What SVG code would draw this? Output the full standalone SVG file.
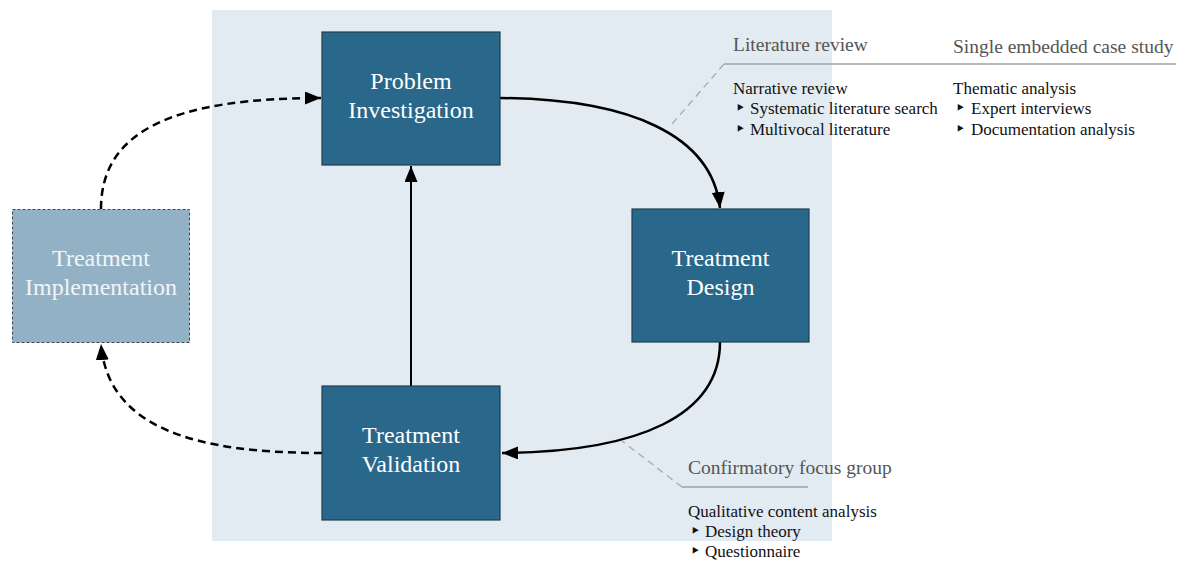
<svg xmlns="http://www.w3.org/2000/svg" width="1192" height="561" viewBox="0 0 1192 561">
  <style>
    .node { fill: #29688b; stroke: #1f3f52; stroke-width: 1.2; }
    .node-ghost { fill: #93b1c4; stroke: #3a4a55; stroke-width: 1; stroke-dasharray: 3 2; }
    .label { font-family: "Liberation Serif", serif; font-size: 24px; fill: #ffffff; text-anchor: middle; }
    .label-ghost { fill: #f1f5f8; }
    .flow { fill: none; stroke: #000; stroke-width: 2.5; }
    .flow-dash { fill: none; stroke: #000; stroke-width: 2.5; stroke-dasharray: 8 5; }
    .head { font-family: "Liberation Serif", serif; font-size: 19.5px; fill: #555; }
    .sub { font-family: "Liberation Serif", serif; font-size: 17px; fill: #111; }
    .bullet { font-family: "DejaVu Sans", sans-serif; font-size: 18px; fill: #111; }
    .rule { stroke: #a0a0a0; stroke-width: 1.5; fill: none; }
    .leader { stroke: #aaaaaa; stroke-width: 1.3; stroke-dasharray: 7 5; fill: none; }
  </style>
  <defs>
    <marker id="arrow" markerUnits="userSpaceOnUse" markerWidth="17" markerHeight="13" refX="16" refY="6.5" orient="auto">
      <path d="M0,0 L16,6.5 L0,13 z" fill="#000"/>
    </marker>
  </defs>

  <rect width="1192" height="561" fill="#ffffff"/>
  <!-- cycle area -->
  <rect x="212" y="10" width="620" height="531" fill="#e2ebf1"/>

  <!-- connectors -->
  <g id="connectors">
    <path class="flow" d="M500,98 C630,99 712,135 720,208" marker-end="url(#arrow)"/>
    <path class="flow" d="M720,342 C720,415 640,452 502,453" marker-end="url(#arrow)"/>
    <path class="flow" d="M411,386 L411,166" style="stroke-width:2" marker-end="url(#arrow)"/>
    <path class="flow-dash" d="M322,453 C200,453 108,430 101,344" marker-end="url(#arrow)"/>
    <path class="flow-dash" d="M101,209 C101,130 175,98 321,98" marker-end="url(#arrow)"/>
  </g>

  <!-- method annotations -->
  <g id="annotation-literature">
    <path class="leader" d="M724,64 L672,124"/>
    <path class="rule" d="M724,64 L1176,64"/>
    <text class="head" x="733" y="51">Literature review</text>
    <text class="sub" x="733" y="94">Narrative review</text>
    <text class="bullet" x="735" y="114">‣</text>
    <text class="sub" x="750" y="114">Systematic literature search</text>
    <text class="bullet" x="735" y="135">‣</text>
    <text class="sub" x="750" y="135">Multivocal literature</text>
  </g>
  <g id="annotation-case-study">
    <text class="head" x="953" y="53">Single embedded case study</text>
    <text class="sub" x="953" y="94">Thematic analysis</text>
    <text class="bullet" x="955" y="114">‣</text>
    <text class="sub" x="971" y="114">Expert interviews</text>
    <text class="bullet" x="955" y="135">‣</text>
    <text class="sub" x="971" y="135">Documentation analysis</text>
  </g>
  <g id="annotation-focus-group">
    <path class="leader" d="M682,487 L622,441"/>
    <path class="rule" d="M682,487 L808,487"/>
    <text class="head" x="688" y="474">Confirmatory focus group</text>
    <text class="sub" x="688" y="517">Qualitative content analysis</text>
    <text class="bullet" x="690" y="537">‣</text>
    <text class="sub" x="705" y="537">Design theory</text>
    <text class="bullet" x="690" y="557">‣</text>
    <text class="sub" x="705" y="557">Questionnaire</text>
  </g>

  <!-- nodes -->
  <g id="problem-investigation">
    <rect class="node" x="322" y="32" width="178" height="133"/>
    <text class="label" x="411" y="89">Problem</text>
    <text class="label" x="411" y="118">Investigation</text>
  </g>
  <g id="treatment-design">
    <rect class="node" x="632" y="209" width="177" height="133"/>
    <text class="label" x="720.5" y="266">Treatment</text>
    <text class="label" x="720.5" y="295">Design</text>
  </g>
  <g id="treatment-validation">
    <rect class="node" x="322" y="386" width="178" height="134"/>
    <text class="label" x="411" y="443">Treatment</text>
    <text class="label" x="411" y="472">Validation</text>
  </g>
  <g id="treatment-implementation">
    <rect class="node-ghost" x="12.5" y="209.5" width="177" height="133"/>
    <text class="label label-ghost" x="101" y="266">Treatment</text>
    <text class="label label-ghost" x="101" y="295">Implementation</text>
  </g>
</svg>
